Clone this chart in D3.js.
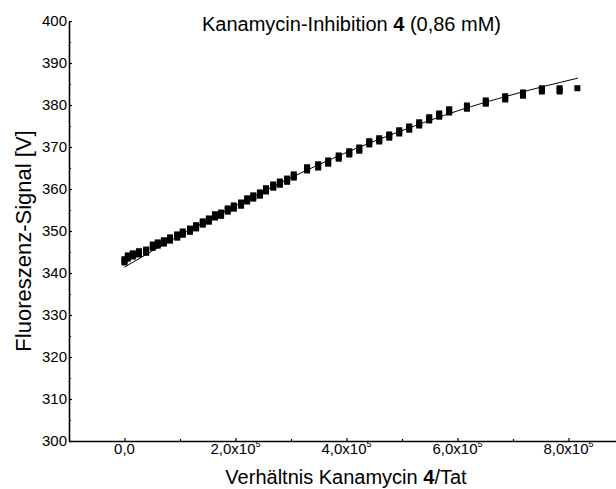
<!DOCTYPE html>
<html>
<head>
<meta charset="utf-8">
<script src="https://cdn.jsdelivr.net/npm/d3@7"></script>
<style>
	body{margin:0;background:#fff;}
	text{font-family:"Liberation Sans",Arial,sans-serif;fill:#000;}
</style>
</head>
<body>
<div id="chart_area"></div>
<script>
	// ratio kanamycin/tat in units of 1e5
	var ratio=[0.00,0.06,0.15,0.26,0.39,0.51,0.60,0.71,0.82,0.95,1.05,1.18,1.29,1.41,1.52,1.63,1.74,1.86,1.97,2.10,
				2.21,2.32,2.44,2.55,2.68,2.80,2.93,3.05,3.29,3.49,3.67,3.86,4.05,4.23,4.41,4.59,4.77,4.95,5.13,5.31,
				5.49,5.67,5.85,6.17,6.51,6.86,7.18,7.52,7.84,8.16];
	// fluorescence signal [V]
	var signal=[342.9,343.8,344.3,344.8,345.2,346.4,346.9,347.4,348.1,348.8,349.5,350.2,351.0,351.9,352.6,353.6,354.0,355.0,355.7,356.4,
				357.4,358.1,358.8,359.8,360.7,361.4,362.1,363.1,364.8,365.5,366.4,367.6,368.6,369.5,371.0,371.7,372.6,373.6,374.5,375.5,
				376.7,377.6,378.6,379.5,380.7,381.7,382.6,383.6,383.6,384.0];
	// error bar half height [V]
	var signal_err=[1.1,1.1,1.1,1.1,1.1,1.1,1.1,1.1,1.1,1.1,1.1,1.1,1.1,1.1,1.1,1.1,1.1,1.1,1.1,1.1,
					1.1,1.1,1.1,1.1,1.1,1.1,1.1,1.1,1.1,1.1,1.1,1.1,1.1,1.1,1.1,1.1,1.1,1.1,1.1,1.1,
					1.1,1.1,1.1,1.1,1.1,1.1,1.1,1.1,1.1,0];
	// fitted curve
	var fit_x=[0,1,2,3,4,5,6,7,8.17];
	var fit_y=[341.4,349.0,356.0,362.7,368.7,373.9,378.6,382.5,386.4];

	var x_ticks=[0,2,4,6,8];
	var x_tick_labels=["0,0","2,0x10","4,0x10","6,0x10","8,0x10"];
	var x_tick_exp=["","5","5","5","5"];
	var x_minor=[1,3,5,7];
	var y_ticks=[300,310,320,330,340,350,360,370,380,390,400];
	var y_minor=[305,315,325,335,345,355,365,375,385,395];

	var area=d3.select("#chart_area")
				.append("svg")
				.attr("width",616)
				.attr("height",489);

	var x=d3.scaleLinear().domain([-1,9]).range([69,624]);
	var y=d3.scaleLinear().domain([300,400]).range([441,21]);

	// axes
	var y_axis=area.append("g")
					.attr("transform","translate(69,0)")
					.call(d3.axisLeft(y).tickValues(y_ticks).tickSize(-3).tickSizeOuter(0).tickPadding(2));
	area.append("g")
		.attr("transform","translate(69,0)")
		.call(d3.axisLeft(y).tickValues(y_minor).tickSize(-2).tickSizeOuter(0).tickFormat(""))
		.select(".domain").remove();
	y_axis.selectAll("text")
			.attr("font-size",15);

	var x_axis=area.append("g")
					.attr("transform","translate(0,441)")
					.call(d3.axisBottom(x).tickValues(x_ticks).tickSize(-3).tickSizeOuter(0).tickFormat(""));
	area.append("g")
		.attr("transform","translate(0,441)")
		.call(d3.axisBottom(x).tickValues(x_minor).tickSize(-2).tickSizeOuter(0).tickFormat(""))
		.select(".domain").remove();
	area.selectAll(".domain").attr("stroke-width",1.6);
	area.selectAll(".tick line").attr("stroke-width",1.2);

	var xl=area.append("g").selectAll("text")
				.data(x_ticks)
				.enter()
				.append("text")
				.attr("x",function(d){return x(d);})
				.attr("y",454)
				.attr("text-anchor","middle")
				.attr("font-size",15);
	xl.append("tspan").text(function(d,i){return x_tick_labels[i];});
	xl.append("tspan")
		.attr("font-size",9)
		.attr("dy",-7)
		.text(function(d,i){return x_tick_exp[i];});

	// title
	var title=area.append("text")
				.attr("x",202)
				.attr("y",31)
				.attr("font-size",20);
	title.append("tspan").text("Kanamycin-Inhibition ");
	title.append("tspan").attr("font-weight","bold").text("4");
	title.append("tspan").text(" (0,86 mM)");

	// axis labels
	var xlab=area.append("text")
				.attr("x",346)
				.attr("y",484)
				.attr("text-anchor","middle")
				.attr("font-size",20);
	xlab.append("tspan").text("Verhältnis Kanamycin ");
	xlab.append("tspan").attr("font-weight","bold").text("4");
	xlab.append("tspan").text("/Tat");

	area.append("text")
		.attr("transform","translate(31,241) rotate(-90)")
		.attr("text-anchor","middle")
		.attr("font-size",22)
		.text("Fluoreszenz-Signal [V]");

	// data points with error bars
	var pts=ratio.map(function(d,i){return {x:d,y:signal[i],e:signal_err[i]};});
	area.append("g").selectAll("rect.err")
		.data(pts)
		.enter()
		.append("rect")
		.attr("class","err")
		.attr("x",function(d){return x(d.x)-3;})
		.attr("y",function(d){return y(d.y+d.e);})
		.attr("width",6)
		.attr("height",function(d){return y(d.y-d.e)-y(d.y+d.e);})
		.attr("fill","#000");
	area.append("g").selectAll("rect.pt")
		.data(pts)
		.enter()
		.append("rect")
		.attr("class","pt")
		.attr("x",function(d){return x(d.x)-3;})
		.attr("y",function(d){return y(d.y)-3;})
		.attr("width",6)
		.attr("height",6)
		.attr("fill","#000");

	// fit curve
	var fit_line=d3.line()
					.x(function(d){return x(d[0]);})
					.y(function(d){return y(d[1]);})
					.curve(d3.curveMonotoneX);
	area.append("path")
		.datum(fit_x.map(function(d,i){return [d,fit_y[i]];}))
		.attr("d",fit_line)
		.attr("fill","none")
		.attr("stroke","#000")
		.attr("stroke-width",1);
</script>
</body>
</html>
